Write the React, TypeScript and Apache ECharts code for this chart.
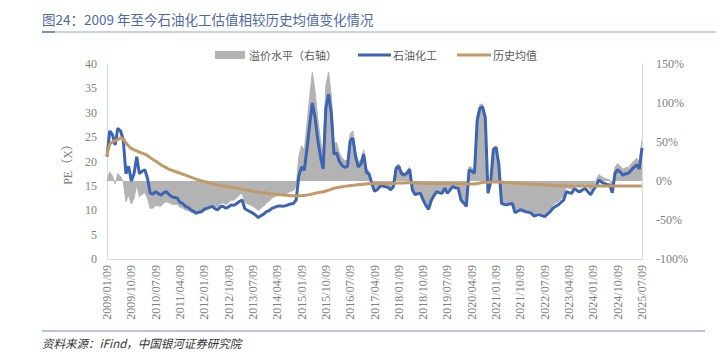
import React, { useEffect, useRef } from "react";
import * as echarts from "echarts";

// 石油化工 PE (monthly, 2009/01 – 2025/07)
const peValues: number[] = [
  21.0, 26.3, 25.5, 23.4, 26.8, 26.3, 24.5, 17.5, 19.0, 16.0, 17.5, 21.0,
  17.5, 18.0, 18.3, 16.5, 13.5, 13.3, 13.8, 13.4, 13.1, 13.6, 13.8, 13.2,
  12.8, 12.6, 12.5, 11.6, 11.4, 10.8, 10.6, 10.1, 9.8, 9.4, 9.6, 9.7,
  10.2, 10.4, 10.6, 10.8, 10.3, 10.1, 10.7, 10.8, 10.4, 10.7, 11.1, 11.0,
  11.4, 11.8, 12.1, 10.3, 10.0, 9.7, 9.4, 9.0, 8.5, 8.9, 9.2, 9.7,
  9.9, 10.4, 10.6, 10.8, 10.9, 10.8, 10.9, 11.1, 11.3, 11.4, 12.1, 17.0,
  18.9, 18.2, 22.5, 27.5, 32.0, 29.0, 24.5, 21.0, 18.5, 31.0, 33.8, 30.0,
  21.5, 21.8, 20.0, 19.2, 18.8, 19.0, 24.2, 24.8, 21.0, 18.9, 19.5, 21.5,
  17.8, 17.4, 15.5, 13.9, 14.2, 14.9, 15.0, 14.8, 14.7, 14.2, 14.8, 18.6,
  19.0, 17.5, 17.2, 17.6, 18.4, 14.2, 13.2, 13.4, 13.5, 12.1, 11.0, 10.2,
  12.0, 13.0, 13.8, 13.6, 13.5, 14.5, 13.5, 14.2, 14.9, 14.6, 14.5, 12.1,
  11.5, 10.8, 18.3, 18.0, 17.6, 28.5, 30.9, 31.2, 29.0, 13.5, 15.8, 22.5,
  22.9, 19.5, 11.4, 11.2, 11.1, 11.3, 11.4, 9.5, 9.8, 10.1, 9.9, 9.7,
  9.6, 9.4, 8.8, 9.0, 9.1, 8.9, 8.7, 9.2, 9.7, 10.4, 10.8, 11.1,
  11.6, 12.1, 13.8, 13.6, 13.5, 14.5, 14.0, 13.8, 14.2, 14.5, 13.8, 13.2,
  14.2, 15.0, 16.2, 15.8, 15.5, 15.3, 15.2, 13.6, 17.6, 18.3, 17.8, 17.2,
  17.5, 17.6, 18.2, 18.8, 19.3, 18.5, 22.8,
];

// 历史均值 (monthly)
const avgValues: number[] = [
  21.0, 23.5, 24.0, 24.3, 24.5, 24.8, 24.6, 23.8, 23.2, 22.7, 22.4, 22.2,
  21.9, 21.7, 21.5, 21.2, 20.8, 20.4, 20.1, 19.7, 19.3, 19.0, 18.7, 18.4,
  18.2, 18.0, 17.8, 17.6, 17.4, 17.2, 17.0, 16.8, 16.6, 16.4, 16.2, 16.0,
  15.9, 15.8, 15.6, 15.5, 15.3, 15.2, 15.1, 15.0, 14.9, 14.8, 14.7, 14.6,
  14.5, 14.4, 14.3, 14.2, 14.1, 14.0, 13.9, 13.8, 13.7, 13.6, 13.55, 13.5,
  13.4, 13.35, 13.3, 13.25, 13.2, 13.15, 13.1, 13.05, 13.0, 13.0, 12.95, 12.95,
  13.0, 13.05, 13.1, 13.2, 13.35, 13.5, 13.6, 13.7, 13.8, 13.95, 14.1, 14.3,
  14.5, 14.6, 14.7, 14.8, 14.9, 15.0, 15.05, 15.1, 15.2, 15.25, 15.3, 15.35,
  15.4, 15.45, 15.5, 15.5, 15.5, 15.5, 15.5, 15.5, 15.5, 15.5, 15.5, 15.55,
  15.6, 15.6, 15.6, 15.65, 15.65, 15.65, 15.6, 15.6, 15.55, 15.55, 15.5, 15.5,
  15.5, 15.5, 15.5, 15.5, 15.5, 15.5, 15.5, 15.5, 15.5, 15.5, 15.5, 15.45,
  15.45, 15.4, 15.4, 15.4, 15.4, 15.5, 15.6, 15.7, 15.75, 15.75, 15.75, 15.8,
  15.8, 15.8, 15.75, 15.7, 15.7, 15.65, 15.6, 15.6, 15.55, 15.5, 15.5, 15.45,
  15.4, 15.4, 15.35, 15.3, 15.3, 15.25, 15.2, 15.2, 15.15, 15.1, 15.1, 15.05,
  15.05, 15.0, 15.0, 15.0, 15.0, 15.0, 14.95, 14.95, 14.95, 14.95, 14.95, 14.95,
  14.95, 14.95, 14.95, 14.95, 14.95, 14.95, 14.95, 14.95, 14.95, 14.95, 14.95, 14.95,
  14.95, 14.95, 14.95, 14.95, 14.95, 14.95, 15.0,
];

// 溢价水平 = PE / 历史均值 - 1 (%)
const premiumValues: number[] = peValues.map((v, i) => +((v / avgValues[i] - 1) * 100).toFixed(1));

// Category dates: monthly, on the 9th
const categories: string[] = peValues.map((_, i) => {
  const y = 2009 + Math.floor(i / 12);
  const m = (i % 12) + 1;
  return `${y}/${String(m).padStart(2, "0")}/09`;
});

const seriesNames = ["溢价水平（右轴）", "石油化工", "历史均值"];
const titleText = "图24：2009 年至今石油化工估值相较历史均值变化情况";
const sourceText = "资料来源：iFind，中国银河证券研究院";
const leftAxisName = "PE（X）";

const GRAY = "#b3b3b3";
const BLUE = "#3d64b2";
const BROWN = "#c19a67";
const LABEL = "#808080";
const SERIF = "'Liberation Serif', 'Times New Roman', serif";
const CJK = "'Noto Sans CJK SC', sans-serif";

export default function App() {
  const ref = useRef<HTMLDivElement>(null);
  useEffect(() => {
    if (!ref.current) return;
    const chart = echarts.init(ref.current, null, { renderer: "svg" });
    chart.setOption({
      animation: false,
      backgroundColor: "#ffffff",
      grid: { left: 107, right: 74, top: 64, bottom: 95, containLabel: false },
      xAxis: {
        type: "category",
        data: categories,
        boundaryGap: false,
        axisLine: { show: true, lineStyle: { color: "#d9d9d9", width: 1 } },
        axisTick: { show: false },
        axisLabel: {
          rotate: 90,
          interval: 8,
          color: LABEL,
          fontFamily: SERIF,
          fontSize: 12,
          margin: 6,
          padding: [8, 0, 0, 0],
        },
        splitLine: { show: false },
      },
      yAxis: [
        {
          type: "value",
          min: 0,
          max: 40,
          interval: 5,
          name: leftAxisName,
          nameLocation: "middle",
          nameGap: 32,
          nameRotate: 90,
          nameTextStyle: { color: LABEL, fontFamily: SERIF + ", " + CJK, fontSize: 12 },
          axisLine: { show: true, lineStyle: { color: "#d9d9d9", width: 1 } },
          axisTick: { show: false },
          axisLabel: { color: LABEL, fontFamily: SERIF, fontSize: 12, margin: 10 },
          splitLine: { show: false },
        },
        {
          type: "value",
          min: -100,
          max: 150,
          interval: 50,
          position: "right",
          axisLine: { show: true, lineStyle: { color: "#d9d9d9", width: 1 } },
          axisTick: { show: false },
          axisLabel: {
            color: LABEL,
            fontFamily: SERIF,
            fontSize: 12,
            margin: 14,
            formatter: (v: number) => `${v}%`,
          },
          splitLine: { show: false },
        },
      ],
      series: [
        {
          name: seriesNames[0],
          type: "line",
          yAxisIndex: 1,
          data: premiumValues,
          symbol: "none",
          lineStyle: { color: GRAY, width: 1 },
          areaStyle: { color: GRAY, opacity: 1 },
          z: 1,
        },
        {
          name: seriesNames[1],
          type: "line",
          yAxisIndex: 0,
          data: peValues,
          symbol: "none",
          lineStyle: { color: BLUE, width: 3 },
          z: 2,
        },
        {
          name: seriesNames[2],
          type: "line",
          yAxisIndex: 0,
          data: avgValues,
          symbol: "none",
          smooth: true,
          lineStyle: { color: BROWN, width: 3 },
          z: 3,
        },
      ],
      graphic: [
        {
          type: "text",
          x: 42,
          y: 19,
          style: {
            text: titleText,
            fontFamily: CJK,
            fontSize: 13.5,
            fill: "#5068a8",
            verticalAlign: "middle",
          },
        },
        { type: "line", shape: { x1: 42, y1: 32, x2: 716, y2: 32 }, style: { stroke: "#b8c3df", lineWidth: 1.5 } },
        { type: "line", shape: { x1: 42, y1: 32, x2: 55, y2: 32 }, style: { stroke: "#7d90c4", lineWidth: 2 } },
        // legend
        { type: "rect", shape: { x: 215, y: 51, width: 30, height: 8 }, style: { fill: GRAY } },
        {
          type: "text",
          x: 249,
          y: 55,
          style: { text: seriesNames[0], fontFamily: CJK, fontSize: 11, fill: "#595959", verticalAlign: "middle" },
        },
        { type: "line", shape: { x1: 358, y1: 55, x2: 391, y2: 55 }, style: { stroke: BLUE, lineWidth: 3 } },
        {
          type: "text",
          x: 393,
          y: 55,
          style: { text: seriesNames[1], fontFamily: CJK, fontSize: 11, fill: "#595959", verticalAlign: "middle" },
        },
        { type: "line", shape: { x1: 457, y1: 55, x2: 491, y2: 55 }, style: { stroke: BROWN, lineWidth: 3 } },
        {
          type: "text",
          x: 493,
          y: 55,
          style: { text: seriesNames[2], fontFamily: CJK, fontSize: 11, fill: "#595959", verticalAlign: "middle" },
        },
        // bottom rule and source
        { type: "line", shape: { x1: 42, y1: 331, x2: 705, y2: 331 }, style: { stroke: "#b8c3df", lineWidth: 2 } },
        {
          type: "text",
          x: 42,
          y: 343,
          style: {
            text: sourceText,
            fontFamily: CJK,
            fontSize: 11.5,
            fontStyle: "italic",
            fill: "#333333",
            verticalAlign: "middle",
          },
        },
      ],
    });
    return () => chart.dispose();
  }, []);
  return (
    <div
      ref={ref}
      style={{ position: "fixed", left: 0, top: 0, width: 716, height: 354, background: "#fff" }}
    />
  );
}
